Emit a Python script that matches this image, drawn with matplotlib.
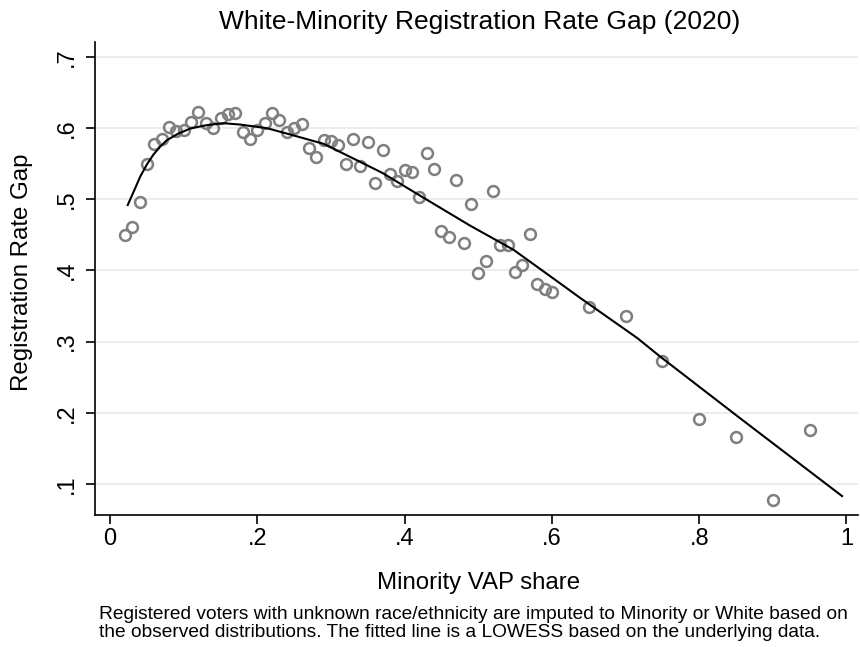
import matplotlib
matplotlib.use("Agg")
import matplotlib.pyplot as plt
from matplotlib.ticker import FixedLocator

plt.rcParams['font.family'] = ['Liberation Sans', 'DejaVu Sans']

# binned scatter: minority VAP share vs registration rate gap
share = [0.02, 0.03, 0.04, 0.05, 0.06, 0.07, 0.08, 0.09, 0.10, 0.11,
         0.12, 0.13, 0.14, 0.15, 0.16, 0.17, 0.18, 0.19, 0.20, 0.21,
         0.22, 0.23, 0.24, 0.25, 0.26, 0.27, 0.28, 0.29, 0.30, 0.31,
         0.32, 0.33, 0.34, 0.35, 0.36, 0.37, 0.38, 0.39, 0.40, 0.41,
         0.42, 0.43, 0.44, 0.45, 0.46, 0.47, 0.48, 0.49, 0.50, 0.51,
         0.52, 0.53, 0.54, 0.55, 0.56, 0.57, 0.58, 0.59, 0.60,
         0.65, 0.70, 0.75, 0.80, 0.85, 0.90, 0.95]
gap = [0.450, 0.461, 0.496, 0.549, 0.578, 0.585, 0.601, 0.596, 0.597, 0.609,
       0.623, 0.607, 0.600, 0.614, 0.620, 0.622, 0.594, 0.585, 0.597, 0.607,
       0.622, 0.612, 0.594, 0.600, 0.606, 0.572, 0.559, 0.584, 0.582, 0.576,
       0.549, 0.585, 0.547, 0.581, 0.523, 0.570, 0.536, 0.526, 0.541, 0.538,
       0.503, 0.565, 0.542, 0.456, 0.447, 0.527, 0.439, 0.493, 0.396, 0.413,
       0.512, 0.436, 0.436, 0.398, 0.408, 0.451, 0.381, 0.374, 0.370,
       0.349, 0.336, 0.273, 0.191, 0.166, 0.078, 0.176]

# lowess fit
fit_x = [0.024, 0.033, 0.041, 0.050, 0.059, 0.068, 0.077, 0.092, 0.109, 0.130,
         0.154, 0.177, 0.213, 0.245, 0.290, 0.335, 0.370, 0.426, 0.489, 0.548,
         0.611, 0.639, 0.716, 0.747, 0.856, 0.994]
fit_y = [0.492, 0.513, 0.532, 0.549, 0.563, 0.574, 0.583, 0.592, 0.5995, 0.604,
         0.607, 0.605, 0.600, 0.591, 0.578, 0.555, 0.537, 0.502, 0.463, 0.429,
         0.382, 0.361, 0.305, 0.279, 0.192, 0.083]

xticks = [0, 0.2, 0.4, 0.6, 0.8, 1.0]
xlabels = ['0', '.2', '.4', '.6', '.8', '1']
yticks = [0.1, 0.2, 0.3, 0.4, 0.5, 0.6, 0.7]
ylabels = ['.1', '.2', '.3', '.4', '.5', '.6', '.7']

fig = plt.figure(figsize=(8.6, 6.47), dpi=100)
ax = fig.add_axes([0.1105, 0.204, 0.8875, 0.731])

ax.plot(share, gap, linestyle='none', marker='o', markersize=7.8,
        markerfacecolor='none', markeredgecolor='#7f7f7f', markeredgewidth=1.8,
        zorder=3)
ax.plot(fit_x, fit_y, color='black', linewidth=1.5, zorder=4)

ax.set_xlim(-0.0204, 1.016)
ax.set_ylim(0.0564, 0.721)
ax.xaxis.set_major_locator(FixedLocator(xticks))
ax.set_xticklabels(xlabels)
ax.yaxis.set_major_locator(FixedLocator(yticks))
ax.set_yticklabels(ylabels, rotation=90, va='center')

ax.grid(axis='y', color='#eaeaea', linewidth=1.3)
ax.set_axisbelow(True)
for s in ['top', 'right']:
    ax.spines[s].set_visible(False)
ax.spines['left'].set_linewidth(1.2)
ax.spines['bottom'].set_linewidth(1.2)
ax.tick_params(axis='both', direction='out', length=6.5, width=1.2,
               labelsize=17)
ax.tick_params(axis='x', pad=3)
ax.tick_params(axis='y', pad=6)

ax.set_xlabel('Minority VAP share', fontsize=17.3, va='center')
ax.xaxis.set_label_coords(0.502, -0.1438)
ax.set_ylabel('Registration Rate Gap', fontsize=17.3, va='center')
ax.yaxis.set_label_coords(-0.0957, 0.514)

fig.text(0.558, 0.966, 'White-Minority Registration Rate Gap (2020)',
         fontsize=19, ha='center', va='center')

fig.text(0.1153, 0.0365,
         'Registered voters with unknown race/ethnicity are imputed to Minority or White based on\n'
         'the observed distributions. The fitted line is a LOWESS based on the underlying data.',
         fontsize=13.8, ha='left', va='center', linespacing=1.02)

fig.savefig('out.png', dpi=100)
